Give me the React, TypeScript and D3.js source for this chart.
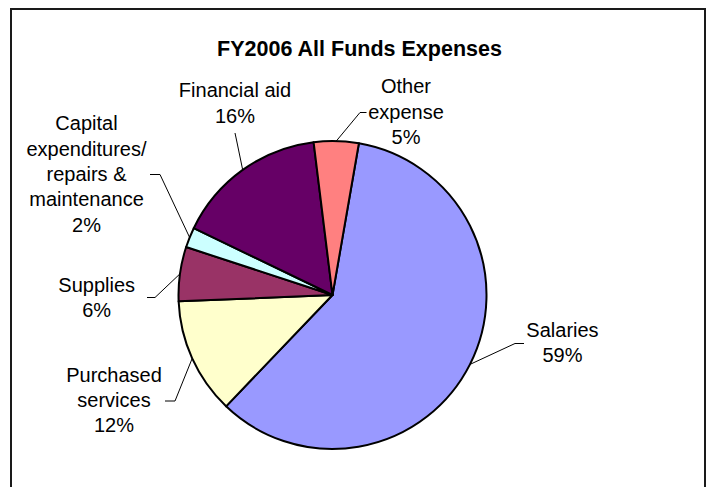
import React from "react";
import * as d3 from "d3";

// slice data, in drawing order (clockwise)
const categories = [
  "Salaries",
  "Purchased services",
  "Supplies",
  "Capital expenditures/ repairs & maintenance",
  "Financial aid",
  "Other expense",
];
const shares = [59.4, 12.2, 5.7, 2.1, 15.9, 4.7];
const colors = ["#9999FF", "#FFFFCC", "#993366", "#CCFFFF", "#660066", "#FF8080"];
const labelLines = [
  ["Salaries"],
  ["Purchased", "services"],
  ["Supplies"],
  ["Capital", "expenditures/", "repairs &", "maintenance"],
  ["Financial aid"],
  ["Other", "expense"],
];
const title = "FY2006 All Funds Expenses";

// layout of the data labels: text centre, first baseline, leader-line bends
const labelLayout = [
  { x: 562.5, y: 336.7, bend: [[515, 343.5], [524, 343.5]] },
  { x: 114, y: 381.7, bend: [[175, 401], [165, 401]] },
  { x: 96.7, y: 291.7, bend: [[155, 297.5], [147, 297.5]] },
  { x: 86.5, y: 130.3, bend: [[160, 174.5], [150, 174.5]] },
  { x: 235, y: 97.3, bend: [[236.5, 140], [235, 133]] },
  { x: 406, y: 93.3, bend: [[360, 112.5], [366.5, 112.5]] },
];

const W = 708;
const H = 487;
const cx = 332.5;
const cy = 295;
const R = 154;
const lineGap = 25.3;
const font = "'Liberation Sans', Arial, sans-serif";

export default function App() {
  const start = (9.87 * Math.PI) / 180;
  const pie = d3
    .pie<number>()
    .sort(null)
    .value((d) => d)
    .startAngle(start)
    .endAngle(start + 2 * Math.PI);
  const arcs = pie(shares);
  const arc = d3.arc<d3.PieArcDatum<number>>().innerRadius(0).outerRadius(R);
  const line = d3.line();

  return (
    <div style={{ position: "absolute", left: 0, top: 0 }}>
      <svg width={W} height={H} style={{ display: "block", background: "#fff" }}>
        <rect x={11} y={9} width={694} height={500} fill="#fff" stroke="#1a1a1a" strokeWidth={2} />
        <text
          x={359.5}
          y={56}
          textAnchor="middle"
          fontFamily={font}
          fontWeight="bold"
          fontSize={21.5}
          fill="#000"
        >
          {title}
        </text>
        <g transform={`translate(${cx},${cy})`}>
          {arcs.map((a, i) => (
            <path
              key={categories[i]}
              d={arc(a) || ""}
              fill={colors[i]}
              stroke="#000"
              strokeWidth={2}
              strokeLinejoin="round"
            />
          ))}
        </g>
        {arcs.map((a, i) => {
          const mid = (a.startAngle + a.endAngle) / 2;
          const p0: [number, number] = [cx + R * Math.sin(mid), cy - R * Math.cos(mid)];
          const pts = [p0, ...(labelLayout[i].bend as [number, number][])];
          return (
            <path key={"l" + i} d={line(pts) || ""} fill="none" stroke="#000" strokeWidth={1} />
          );
        })}
        {arcs.map((a, i) => {
          const lines = [...labelLines[i], `${Math.round(shares[i])}%`];
          const lay = labelLayout[i];
          return (
            <text
              key={"t" + i}
              textAnchor="middle"
              fontFamily={font}
              fontSize={20}
              fill="#000"
            >
              {lines.map((s, j) => (
                <tspan key={j} x={lay.x} y={lay.y + j * lineGap}>
                  {s}
                </tspan>
              ))}
            </text>
          );
        })}
      </svg>
    </div>
  );
}
